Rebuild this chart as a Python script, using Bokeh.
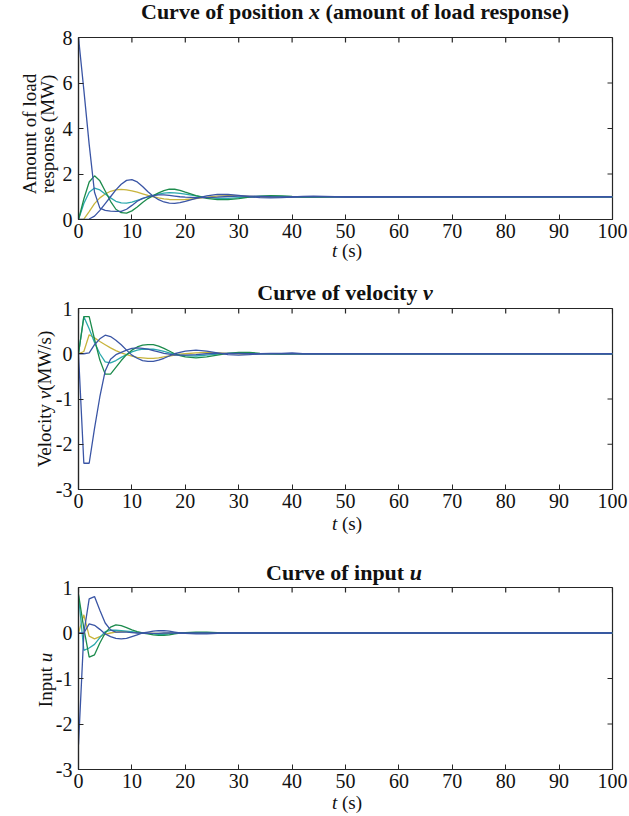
from bokeh.plotting import figure
from bokeh.models import Range1d, FixedTicker, Div
from bokeh.layouts import column, row
from bokeh.embed import file_html
from bokeh.resources import INLINE

# ---------------- data ----------------
T = list(range(0, 21)) + list(range(22, 51, 2)) + [100]

# position x (amount of load response, MW)
x_blue1 = [8, 5.7, 3.3, 1.2, 0.5, 0.4, 0.37, 0.36, 0.36, 0.45, 0.62, 0.8, 0.93, 1.0, 1.05, 1.08, 1.08, 1.06, 1.03, 1.0, 0.98,
           0.96, 0.96, 0.98, 1.01, 1.03, 1.03, 1.02, 1.0, 0.99, 0.99, 1.0, 1.0, 1.0, 1.0, 1.0, 1.0]
x_blue2 = [0, 0, 0.02, 0.15, 0.4, 0.7, 1.0, 1.3, 1.55, 1.72, 1.75, 1.65, 1.45, 1.22, 1.02, 0.87, 0.77, 0.72, 0.71, 0.74, 0.8,
           0.93, 1.04, 1.1, 1.1, 1.06, 1.0, 0.96, 0.95, 0.96, 0.99, 1.02, 1.03, 1.02, 1.0, 0.99, 1.0]
x_green = [0, 0.9, 1.65, 1.92, 1.7, 1.25, 0.8, 0.45, 0.3, 0.28, 0.38, 0.55, 0.75, 0.92, 1.05, 1.17, 1.27, 1.33, 1.33, 1.28, 1.2,
           1.05, 0.93, 0.87, 0.87, 0.92, 0.98, 1.03, 1.05, 1.04, 1.01, 0.99, 0.98, 0.99, 1.0, 1.0, 1.0]
x_teal = [0, 0.7, 1.2, 1.38, 1.3, 1.12, 0.95, 0.8, 0.73, 0.72, 0.76, 0.84, 0.92, 1.0, 1.06, 1.12, 1.16, 1.18, 1.17, 1.15, 1.12,
          1.04, 0.97, 0.93, 0.93, 0.96, 0.99, 1.02, 1.03, 1.02, 1.0, 0.99, 0.99, 1.0, 1.0, 1.0, 1.0]
x_yellow = [0, 0.02, 0.35, 0.7, 0.95, 1.12, 1.24, 1.3, 1.32, 1.3, 1.26, 1.2, 1.13, 1.06, 1.0, 0.95, 0.91, 0.88, 0.87, 0.87, 0.88,
            0.92, 0.98, 1.03, 1.05, 1.04, 1.02, 0.99, 0.98, 0.99, 1.0, 1.0, 1.0, 1.0, 1.0, 1.0, 1.0]

# velocity v (MW/s)
v_blue1 = [0, -2.42, -2.42, -1.65, -0.95, -0.38, -0.12, -0.02, 0.03, 0.08, 0.12, 0.13, 0.12, 0.1, 0.07, 0.04, 0.01, -0.01, -0.03, -0.03, -0.03,
           -0.02, 0.0, 0.01, 0.01, 0.01, 0.0, 0.0, 0.0, 0.0, 0.0, 0.0, 0.0, 0.0, 0.0, 0.0, 0.0]
v_blue2 = [0, 0, 0.02, 0.2, 0.33, 0.41, 0.38, 0.3, 0.2, 0.08, -0.03, -0.1, -0.15, -0.17, -0.17, -0.14, -0.1, -0.05, 0.0, 0.03, 0.06,
           0.08, 0.06, 0.02, -0.02, -0.03, -0.02, 0.0, 0.01, 0.01, 0.02, 0.0, 0.0, 0.0, 0.0, 0.0, 0.0]
v_green = [0, 0.82, 0.82, 0.32, -0.14, -0.45, -0.45, -0.3, -0.15, -0.02, 0.08, 0.15, 0.19, 0.2, 0.2, 0.17, 0.12, 0.06, 0.0, -0.04, -0.07,
           -0.09, -0.07, -0.03, 0.01, 0.03, 0.03, 0.01, 0.0, -0.01, 0.0, 0.0, 0.0, 0.0, 0.0, 0.0, 0.0]
v_teal = [0, 0.82, 0.55, 0.25, 0.0, -0.18, -0.2, -0.15, -0.08, -0.02, 0.04, 0.08, 0.1, 0.1, 0.1, 0.08, 0.05, 0.02, -0.01, -0.03, -0.04,
          -0.05, -0.03, -0.01, 0.01, 0.02, 0.01, 0.0, 0.0, 0.0, 0.0, 0.0, 0.0, 0.0, 0.0, 0.0, 0.0]
v_yellow = [0, 0.05, 0.42, 0.35, 0.27, 0.2, 0.13, 0.07, 0.02, -0.02, -0.05, -0.08, -0.09, -0.1, -0.1, -0.09, -0.07, -0.05, -0.03, -0.01, 0.0,
            0.02, 0.03, 0.02, 0.01, 0.0, -0.01, 0.0, 0.0, 0.0, 0.0, 0.0, 0.0, 0.0, 0.0, 0.0, 0.0]

# input u
u_blue1 = [-2.45, 0.0, 0.75, 0.8, 0.5, 0.22, 0.07, 0.02, 0.02, 0.02, 0.01, 0.0, 0.0, -0.01, -0.01, -0.01, 0.0, 0.0, 0.0, 0.0, 0.0,
           0.0, 0.0, 0.0, 0.0, 0.0, 0.0, 0.0, 0.0, 0.0, 0.0, 0.0, 0.0, 0.0, 0.0, 0.0, 0.0]
u_blue2 = [0, 0.0, 0.2, 0.17, 0.08, -0.02, -0.08, -0.12, -0.13, -0.12, -0.08, -0.04, 0.0, 0.02, 0.04, 0.05, 0.05, 0.04, 0.02, 0.0, -0.01,
           -0.02, -0.02, -0.01, 0.0, 0.0, 0.0, 0.0, 0.0, 0.0, 0.0, 0.0, 0.0, 0.0, 0.0, 0.0, 0.0]
u_green = [0.85, 0.1, -0.53, -0.48, -0.22, 0.0, 0.13, 0.18, 0.16, 0.12, 0.07, 0.03, 0.0, -0.02, -0.04, -0.05, -0.05, -0.04, -0.02, 0.0, 0.01,
           0.02, 0.02, 0.01, 0.0, 0.0, 0.0, 0.0, 0.0, 0.0, 0.0, 0.0, 0.0, 0.0, 0.0, 0.0, 0.0]
u_teal = [0.82, -0.38, -0.33, -0.25, -0.1, 0.03, 0.06, 0.06, 0.05, 0.04, 0.03, 0.01, 0.0, -0.01, -0.02, -0.03, -0.03, -0.02, -0.01, 0.0, 0.0,
          0.01, 0.01, 0.0, 0.0, 0.0, 0.0, 0.0, 0.0, 0.0, 0.0, 0.0, 0.0, 0.0, 0.0, 0.0, 0.0]
u_yellow = [0.0, 0.4, -0.07, -0.13, -0.08, -0.03, 0.0, 0.02, 0.03, 0.03, 0.02, 0.01, 0.0, 0.0, -0.01, -0.01, -0.01, 0.0, 0.0, 0.0, 0.0,
            0.0, 0.0, 0.0, 0.0, 0.0, 0.0, 0.0, 0.0, 0.0, 0.0, 0.0, 0.0, 0.0, 0.0, 0.0, 0.0]

x_ticks = [0, 10, 20, 30, 40, 50, 60, 70, 80, 90, 100]
y1_ticks = [0, 2, 4, 6, 8]
y23_ticks = [-3, -2, -1, 0, 1]
y23_labels = {-3: "-3", -2: "-2", -1: "-1", 0: "0", 1: "1"}

titles = ["Curve of position <i>x</i> (amount of load response)",
          "Curve of velocity <i>v</i>",
          "Curve of input <i>u</i>"]
xlabel = "<i>t</i> (s)"
ylabels = [["Amount of load", "response (MW)"], ["Velocity <i>v</i>(MW/s)"], ["Input <i>u</i>"]]

COLORS = {"yellow": "#c8b43c", "teal": "#2ba9ad", "green": "#1c8b4c", "blue2": "#3a55a5", "blue1": "#3a55a5"}

FONT = "Liberation Serif"
TICK_SIZE = "20px"
TITLE_PX = 22
LABEL_PX = 19
AX_COLOR = "#262626"
FIG_W = 576
YDIV_W = 52
FULL_W = YDIV_W + FIG_W
TOP = 14


def make_fig(height, yr, yticks, overrides=None):
    p = figure(width=FIG_W, height=height, output_backend="svg", toolbar_location=None, title=None,
               x_range=Range1d(0, 100), y_range=Range1d(*yr),
               min_border_left=26, min_border_right=16, min_border_top=TOP, min_border_bottom=30,
               background_fill_color="white", border_fill_color=None)
    p.grid.visible = False
    p.outline_line_color = AX_COLOR
    p.outline_line_width = 1.2
    for ax, tk in ((p.xaxis[0], x_ticks), (p.yaxis[0], yticks)):
        ax.ticker = FixedTicker(ticks=tk)
        ax.major_tick_in = 5
        ax.major_tick_out = 0
        ax.minor_tick_line_color = None
        ax.axis_line_color = AX_COLOR
        ax.axis_line_width = 1.2
        ax.major_tick_line_color = AX_COLOR
        ax.major_label_text_font = FONT
        ax.major_label_text_font_size = TICK_SIZE
        ax.major_label_text_color = "#111111"
    p.xaxis[0].major_label_standoff = 4
    p.yaxis[0].major_label_standoff = 6
    if overrides:
        p.yaxis[0].major_label_overrides = overrides
    # mirrored (box) ticks on the top and right edges
    p.ray(x=x_ticks, y=[yr[1]] * len(x_ticks), length=5, length_units="screen",
          angle=-90, angle_units="deg", line_color=AX_COLOR, line_width=1.2)
    p.ray(x=[100] * len(yticks), y=yticks, length=5, length_units="screen",
          angle=180, angle_units="deg", line_color=AX_COLOR, line_width=1.2)
    return p


def add_lines(p, series):
    for key, ys in series:
        p.line(T, ys, line_color=COLORS[key], line_width=1.3)


def span(x, y, content, size, weight="normal", rotate=False):
    tr = "translate(-50%,-50%)" + (" rotate(-90deg)" if rotate else "")
    return (f'<span style="position:absolute;left:{x}px;top:{y}px;transform:{tr};white-space:nowrap;'
            f'font-family:\'{FONT}\',serif;font-size:{size}px;font-weight:{weight};color:#111111;line-height:1;'
            f'z-index:5;">{content}</span>')


def box(w, h, inner):
    return Div(text=f'<div style="position:relative;width:{w}px;height:{h}px;overflow:visible;">{inner}</div>',
               width=w, height=h, margin=0, styles={"overflow": "visible", "z-index": "5"})


# ---------------- figures ----------------
p1 = make_fig(226, (0, 8), y1_ticks)
add_lines(p1, [("yellow", x_yellow), ("teal", x_teal), ("green", x_green), ("blue2", x_blue2), ("blue1", x_blue1)])
p2 = make_fig(225, (-3, 1), y23_ticks, y23_labels)
add_lines(p2, [("yellow", v_yellow), ("teal", v_teal), ("green", v_green), ("blue2", v_blue2), ("blue1", v_blue1)])
p3 = make_fig(226, (-3, 1), y23_ticks, y23_labels)
add_lines(p3, [("yellow", u_yellow), ("teal", u_teal), ("green", u_green), ("blue2", u_blue2), ("blue1", u_blue1)])

# ---------------- text blocks ----------------
divA = box(FULL_W, 23, span(355, 12, titles[0], TITLE_PX, "bold"))
divB = box(FULL_W, 45, span(347, 1, xlabel, LABEL_PX) + span(345, 44, titles[1], TITLE_PX, "bold"))
divC = box(FULL_W, 54, span(347, 4, xlabel, LABEL_PX) + span(344, 54, titles[2], TITLE_PX, "bold"))
divD = box(FULL_W, 15, span(347, 3, xlabel, LABEL_PX))

y1 = box(YDIV_W, 226, span(29, 111, ylabels[0][0], LABEL_PX, rotate=True)
         + span(47, 111, ylabels[0][1], LABEL_PX, rotate=True))
y2 = box(YDIV_W, 225, span(44, 105, ylabels[1][0], LABEL_PX, rotate=True))
y3 = box(YDIV_W, 226, span(45, 107, ylabels[2][0], LABEL_PX, rotate=True))

layout = column(divA, row(y1, p1, spacing=0), divB, row(y2, p2, spacing=0), divC,
                row(y3, p3, spacing=0), divD, spacing=0)
open("out.html", "w").write(file_html(layout, INLINE))
